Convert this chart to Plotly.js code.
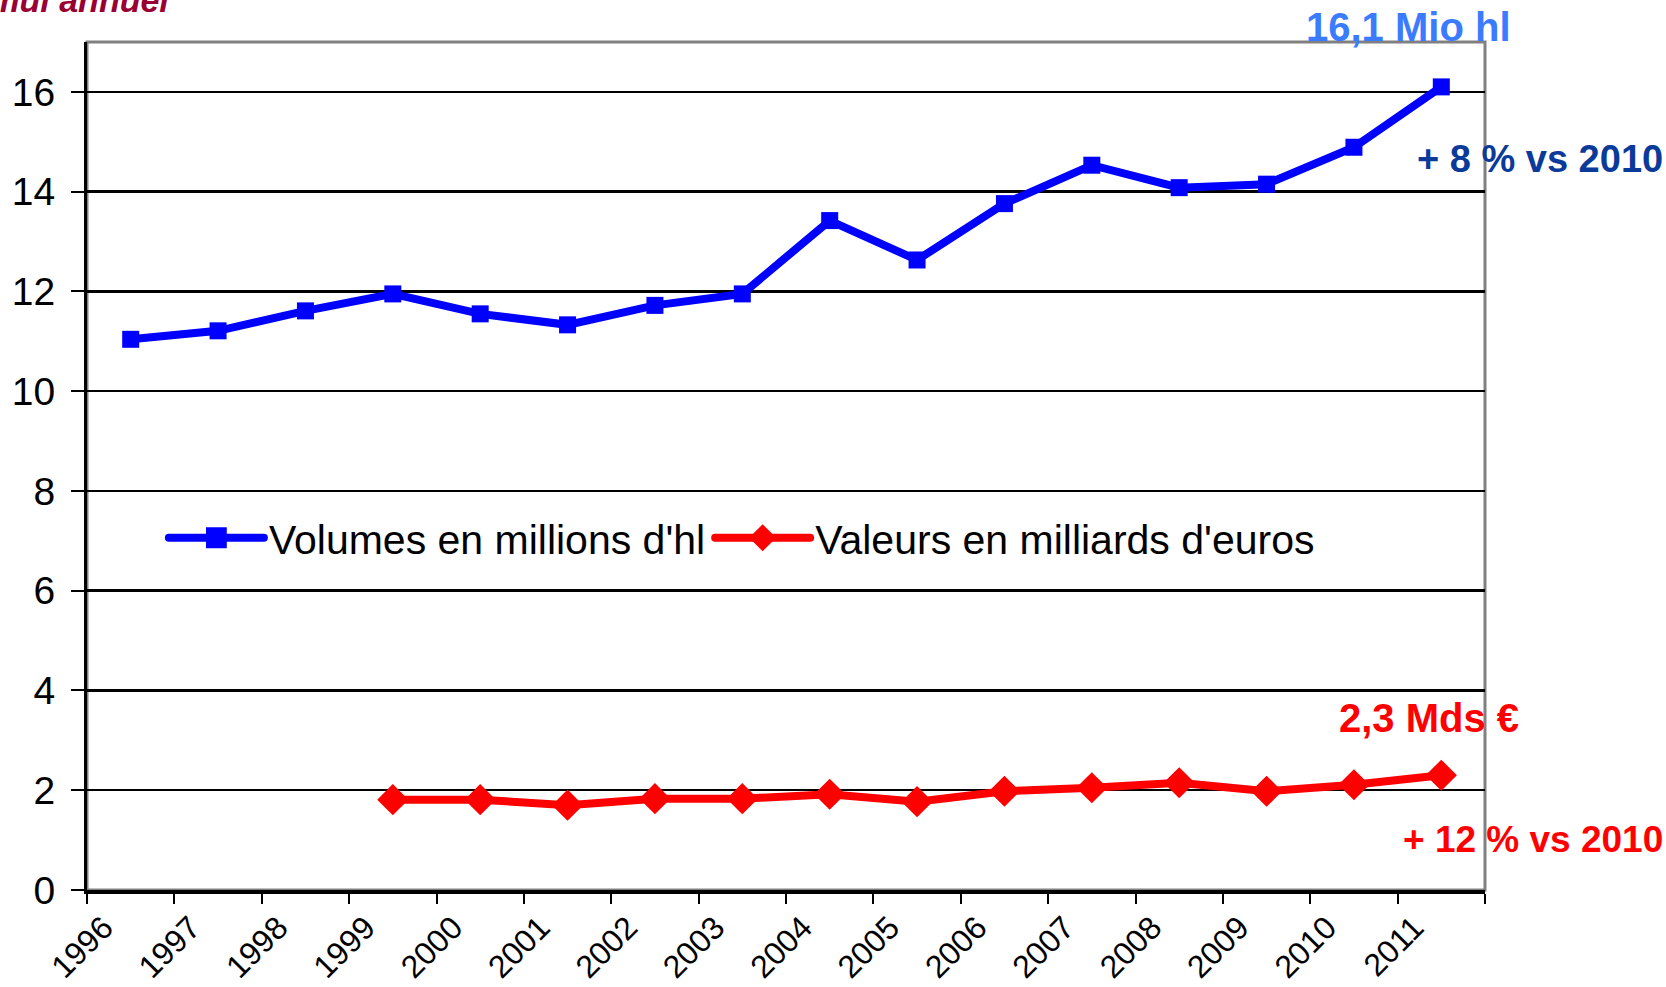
<!DOCTYPE html>
<html>
<head>
<meta charset="utf-8">
<script src="https://cdn.plot.ly/plotly-3.0.1.min.js"></script>
<style>html,body{margin:0;padding:0;background:#fff;}#chart{width:1666px;height:987px;}</style>
</head>
<body>
<div id="chart"></div>
<script>
const years = ["1996","1997","1998","1999","2000","2001","2002","2003","2004","2005","2006","2007","2008","2009","2010","2011"];
const volumes = [11.04, 11.21, 11.61, 11.95, 11.55, 11.33, 11.72, 11.95, 13.42, 12.63, 13.76, 14.53, 14.08, 14.15, 14.89, 16.1];
const valueYears = ["1999","2000","2001","2002","2003","2004","2005","2006","2007","2008","2009","2010","2011"];
const values = [1.81, 1.81, 1.70, 1.83, 1.83, 1.92, 1.77, 1.98, 2.05, 2.15, 1.98, 2.11, 2.3];
const yTicks = [0, 2, 4, 6, 8, 10, 12, 14, 16];

const FONT = "Liberation Sans, Arial, sans-serif";
const LEGEND_SYMBOL_W = 95;

const traces = [
  {
    x: years, y: volumes, name: "Volumes en millions d'hl",
    type: "scatter", mode: "lines+markers",
    line: {color: "#0000ff", width: 8},
    marker: {symbol: "square", size: 17, color: "#0000ff"}
  },
  {
    x: valueYears, y: values, name: "Valeurs en milliards d'euros",
    type: "scatter", mode: "lines+markers",
    line: {color: "#ff0000", width: 8},
    marker: {symbol: "diamond", size: 24, color: "#ff0000"}
  }
];

const layout = {
  width: 1666, height: 987,
  margin: {l: 87, r: 181, t: 42, b: 97},
  paper_bgcolor: "#ffffff", plot_bgcolor: "#ffffff",
  font: {family: FONT, color: "#000000"},
  showlegend: true,
  legend: {
    orientation: "h", x: 0.055, y: 0.415, xanchor: "left", yanchor: "middle",
    font: {size: 41, family: FONT, color: "#000"},
    bgcolor: "rgba(0,0,0,0)", traceorder: "normal", itemwidth: LEGEND_SYMBOL_W
  },
  xaxis: {
    type: "category", categoryarray: years, categoryorder: "array",
    range: [-0.5, years.length - 0.5], autorange: false,
    tickson: "boundaries", ticks: "outside", ticklen: 10, tickwidth: 2, tickcolor: "#000",
    showline: true, linecolor: "#000", linewidth: 4,
    showgrid: false, zeroline: false,
    tickangle: -45, tickfont: {size: 32, family: FONT, color: "#000"},
    ticklabelshift: -27, ticklabelstandoff: 2
  },
  yaxis: {
    range: [0, 17], autorange: false, tickvals: yTicks, ticktext: yTicks.map(String),
    ticks: "outside", ticklen: 13, tickwidth: 2, tickcolor: "#000",
    showline: true, linecolor: "#000", linewidth: 3,
    showgrid: true, gridcolor: "#000", gridwidth: 2.5, zeroline: false,
    tickfont: {size: 39, family: FONT, color: "#000"},
    ticklabelstandoff: 8
  },
  shapes: [
    {type: "rect", xref: "paper", yref: "paper", x0: 0, x1: 1, y0: 0, y1: 1,
     line: {color: "#808080", width: 3}, layer: "below"}
  ],
  annotations: [
    {text: "<b><i>Cumul annuel</i></b>", xref: "paper", yref: "paper", x: 0.061, y: 1.049,
     xanchor: "right", yanchor: "middle", showarrow: false,
     font: {size: 34, family: FONT, color: "#990033"}},
    {text: "<b>16,1 Mio hl</b>", xref: "paper", yref: "paper", x: 0.945, y: 1.018,
     xanchor: "center", yanchor: "middle", showarrow: false,
     font: {size: 40, family: FONT, color: "#3a7bff"}},
    {text: "<b>+ 8 % vs 2010</b>", xref: "paper", yref: "paper", x: 1.039, y: 0.862,
     xanchor: "center", yanchor: "middle", showarrow: false,
     font: {size: 38, family: FONT, color: "#0a3a9a"}},
    {text: "<b>2,3 Mds €</b>", xref: "paper", yref: "paper", x: 0.960, y: 0.203,
     xanchor: "center", yanchor: "middle", showarrow: false,
     font: {size: 40, family: FONT, color: "#ff0000"}},
    {text: "<b>+ 12 % vs 2010</b>", xref: "paper", yref: "paper", x: 1.034, y: 0.060,
     xanchor: "center", yanchor: "middle", showarrow: false,
     font: {size: 37, family: FONT, color: "#ff0000"}}
  ]
};

Plotly.newPlot("chart", traces, layout, {displayModeBar: false, staticPlot: true}).then(function (gd) {
  // lengthen the legend line samples and enlarge the legend markers to match the original keys
  gd.querySelectorAll(".legend .traces").forEach(function (item) {
    item.querySelectorAll(".legendlines path").forEach(function (p) {
      p.setAttribute("d", "M5,0h" + LEGEND_SYMBOL_W);
      p.style.strokeLinecap = "round";
    });
    item.querySelectorAll(".legendpoints path").forEach(function (p) {
      p.setAttribute("transform", "translate(" + (5 + LEGEND_SYMBOL_W / 2) + ",0) scale(1.3)");
    });
  });
});
</script>
</body>
</html>
